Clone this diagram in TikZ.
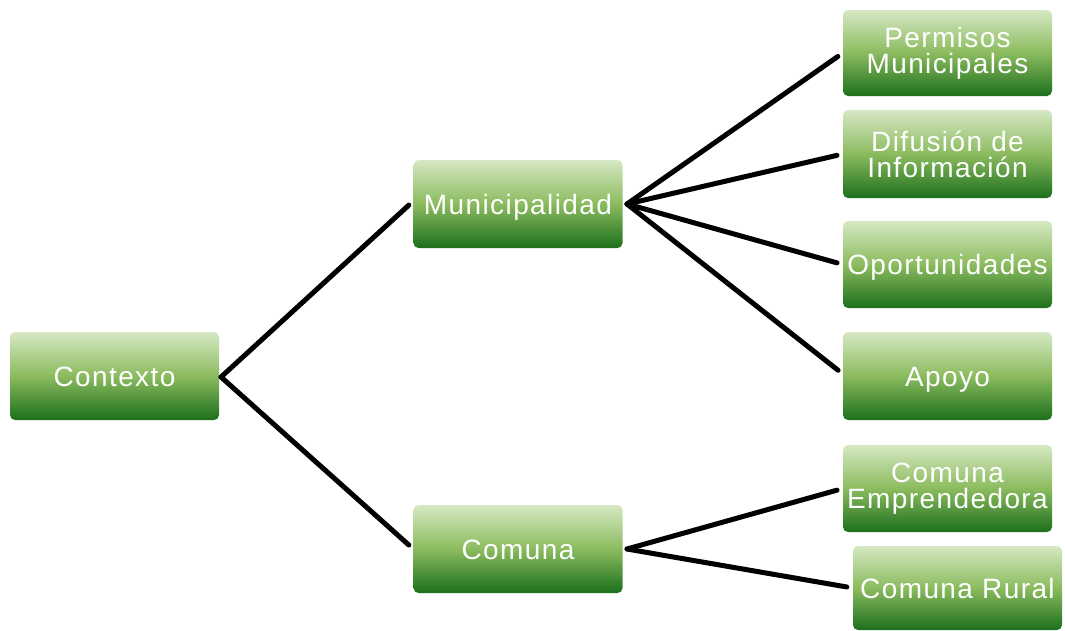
\documentclass[tikz,border=0pt]{standalone}
\usepackage{fontspec}
\newfontfamily\boxfont{Liberation Sans}[LetterSpace=5]
\definecolor{gtop}{HTML}{D6E8C4}
\definecolor{gmid}{HTML}{8BBB5E}
\definecolor{gbot}{HTML}{1C6F1C}
\tikzset{
  greenbox/.style={rectangle, rounded corners=5pt, inner sep=0pt,
    minimum width=209pt, minimum height=88pt,
    top color=gtop, bottom color=gbot, middle color=gmid,
    text=white, align=center,
    font=\boxfont\fontsize{28}{26}\selectfont},
  oneline/.style={text height=20pt, text depth=0pt},
  link/.style={draw=black, line width=5pt, line cap=round, shorten >=6pt}
}
\begin{document}
\begin{tikzpicture}[x=1pt,y=-1pt]
\useasboundingbox (0,0) rectangle (1065,630);

% tree nodes
\node[greenbox, oneline] (ctx)  at (114.5,376) {Contexto};
\node[greenbox, oneline] (mun)  at (518,204)   {Municipalidad};
\node[greenbox, oneline] (com)  at (518,549)   {Comuna};
\node[greenbox, minimum height=86pt] (perm) at (947.5,53) {Permisos\\Municipales};
\node[greenbox] (dif)  at (947.5,154) {Difusión de\\Información};
\node[greenbox, oneline, minimum height=87pt] (opo)  at (947.5,264.5) {Oportunidades};
\node[greenbox, oneline] (apo)  at (947.5,376) {Apoyo};
\node[greenbox, minimum height=87pt] (emp)  at (947.5,488.5) {Comuna\\Emprendedora};
\node[greenbox, oneline, minimum height=84pt] (rur)  at (957.5,588) {Comuna Rural};

% branching points just right of the parent boxes
\coordinate (ctxhub) at (221,377);
\coordinate (munhub) at (627,204);
\coordinate (comhub) at (627,549);

% connectors
\draw[link] (ctxhub) -- ([yshift=3pt]mun.west);
\draw[link] (ctxhub) -- (com.west);
\draw[link] (munhub) -- (perm.west);
\draw[link] (munhub) -- (dif.west);
\draw[link] (munhub) -- (opo.west);
\draw[link] (munhub) -- ([yshift=2pt]apo.west);
\draw[link] (comhub) -- (emp.west);
\draw[link] (comhub) -- (rur.west);
\end{tikzpicture}
\end{document}
